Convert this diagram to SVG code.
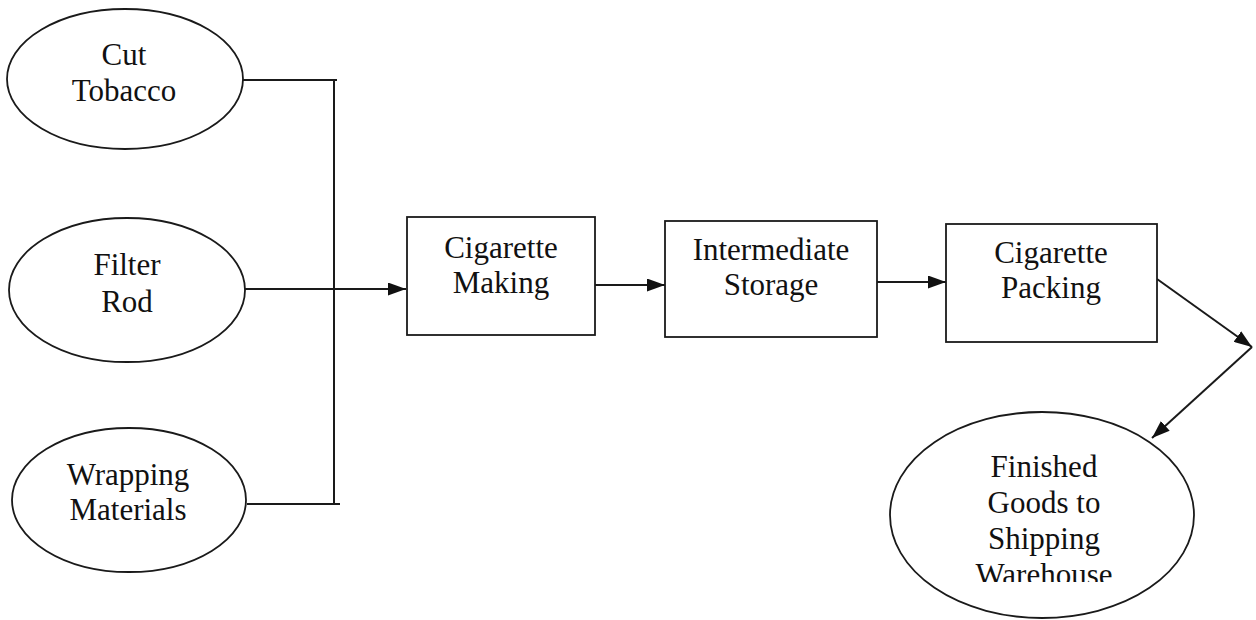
<svg xmlns="http://www.w3.org/2000/svg" width="1256" height="620" viewBox="0 0 1256 620">
<style>
.n{fill:#fff;stroke:#1a1a1a;stroke-width:1.8}
.t{font-family:"Liberation Serif","Times New Roman",serif;font-size:31px;fill:#111;text-anchor:middle}
.c{fill:none;stroke:#1a1a1a;stroke-width:2}
</style>
<defs>
<marker id="ah" viewBox="0 0 18 13" refX="18" refY="6.5" markerWidth="18" markerHeight="13" markerUnits="userSpaceOnUse" orient="auto">
<path d="M0,0 L18,6.5 L0,13 Z" fill="#111"/>
</marker>
<clipPath id="clipW"><rect x="880" y="400" width="330" height="182"/></clipPath>
</defs>
<rect width="1256" height="620" fill="#fff"/>
<g id="connectors">
<path class="c" d="M243,80 H337 M334,80 V504 M247,504 H340"/>
<path class="c" d="M245,289 H406" marker-end="url(#ah)"/>
<path class="c" d="M595,285 H665" marker-end="url(#ah)"/>
<path class="c" d="M877,282 H946" marker-end="url(#ah)"/>
<path class="c" d="M1157,279 L1252,347" marker-end="url(#ah)"/>
<path class="c" d="M1252,347 L1152,438" marker-end="url(#ah)"/>
</g>
<g id="cut-tobacco">
<ellipse class="n" cx="125" cy="79" rx="118" ry="70"/>
<text class="t" x="124" y="65">Cut</text>
<text class="t" x="124" y="101">Tobacco</text>
</g>
<g id="filter-rod">
<ellipse class="n" cx="127" cy="290" rx="118" ry="72"/>
<text class="t" x="127" y="275">Filter</text>
<text class="t" x="127" y="312">Rod</text>
</g>
<g id="wrapping-materials">
<ellipse class="n" cx="129" cy="500" rx="117" ry="72"/>
<text class="t" x="128" y="485">Wrapping</text>
<text class="t" x="128" y="520">Materials</text>
</g>
<g id="cigarette-making">
<rect class="n" x="407" y="217" width="188" height="118"/>
<text class="t" x="501" y="258">Cigarette</text>
<text class="t" x="501" y="293">Making</text>
</g>
<g id="intermediate-storage">
<rect class="n" x="665" y="221" width="212" height="116"/>
<text class="t" x="771" y="260">Intermediate</text>
<text class="t" x="771" y="295">Storage</text>
</g>
<g id="cigarette-packing">
<rect class="n" x="946" y="224" width="211" height="118"/>
<text class="t" x="1051" y="263">Cigarette</text>
<text class="t" x="1051" y="298">Packing</text>
</g>
<g id="finished-goods">
<ellipse class="n" cx="1042" cy="515" rx="152" ry="103"/>
<g clip-path="url(#clipW)">
<text class="t" x="1044" y="477">Finished</text>
<text class="t" x="1044" y="513">Goods to</text>
<text class="t" x="1044" y="549">Shipping</text>
<text class="t" x="1044" y="585">Warehouse</text>
</g>
</g>
</svg>
